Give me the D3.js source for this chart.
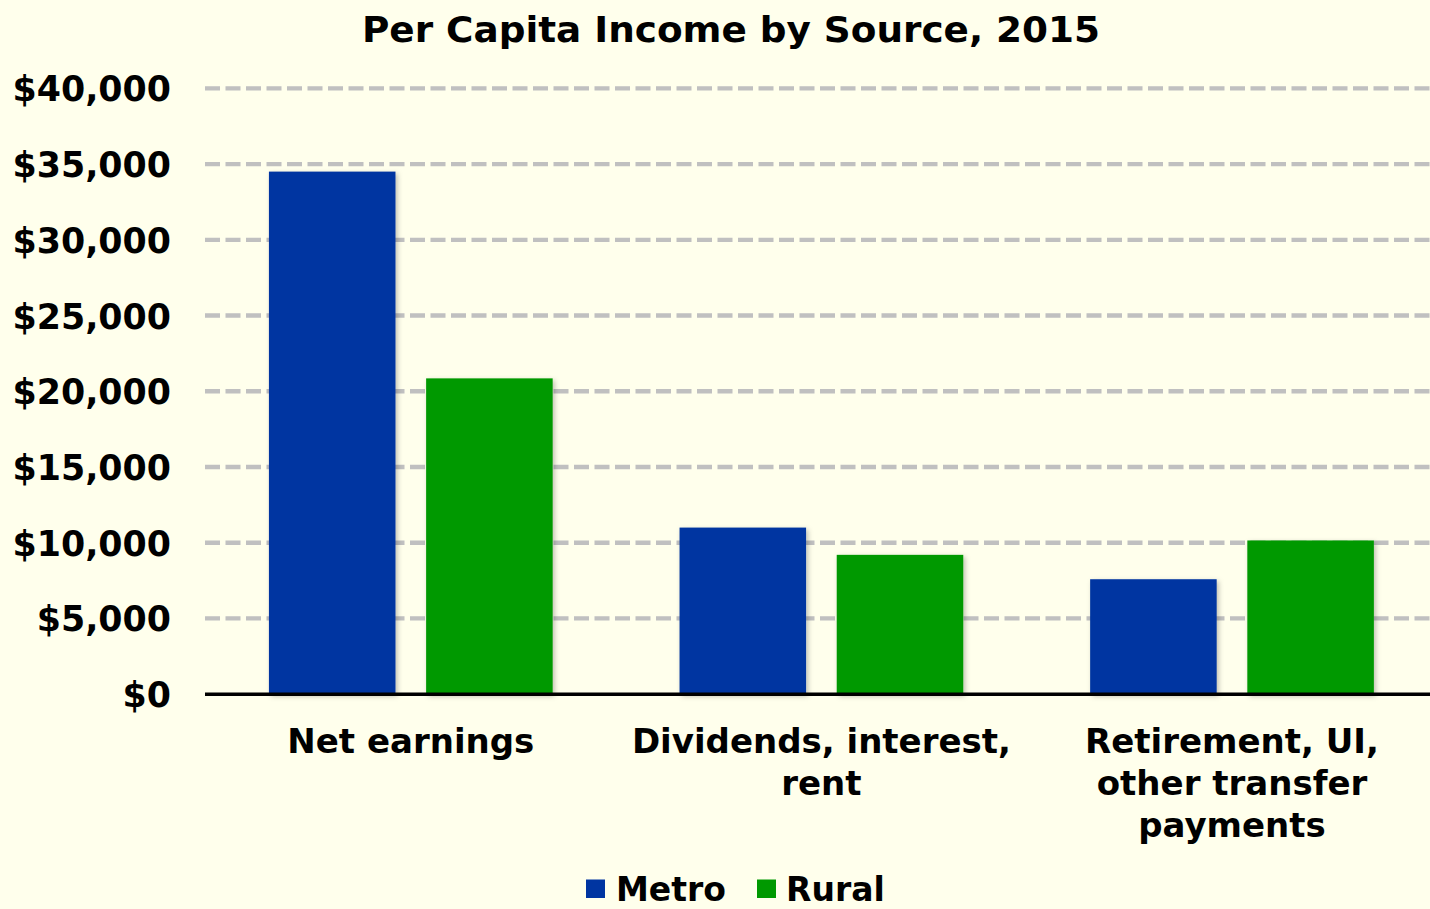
<!DOCTYPE html>
<html>
<head>
<meta charset="utf-8">
<script src="https://cdn.jsdelivr.net/npm/d3@7"></script>
<style>
  html, body { margin: 0; padding: 0; background: #FFFFEC; }
  svg { display: block; }
  text { font-family: "DejaVu Sans", Verdana, sans-serif; font-weight: bold; fill: #000; }
</style>
</head>
<body>
<svg id="chart" width="1430" height="909"></svg>
<script>
const title = "Per Capita Income by Source, 2015";
const categories = ["Net earnings", "Dividends, interest, rent", "Retirement, UI, other transfer payments"];
const seriesNames = ["Metro", "Rural"];
const metroValues = [34500, 11000, 7590];
const ruralValues = [20850, 9200, 10150];
const yTicks = [0, 5000, 10000, 15000, 20000, 25000, 30000, 35000, 40000];
const colors = {Metro: "#0035A1", Rural: "#009900"};

const svg = d3.select("#chart");
svg.append("rect").attr("width", 1430).attr("height", 909).attr("fill", "#FFFFEC");

const defs = svg.append("defs");
const f = defs.append("filter").attr("id", "shadow").attr("x", "-10%").attr("y", "-10%").attr("width", "130%").attr("height", "130%");
f.append("feDropShadow").attr("dx", 2).attr("dy", 2).attr("stdDeviation", 2.5)
  .attr("flood-color", "#000").attr("flood-opacity", 0.25);

const y = d3.scaleLinear().domain([0, 40000]).range([694.2, 88.3]);
const x0 = d3.scaleBand().domain(categories).range([205.5, 1437.3])
  .paddingInner(0.309).paddingOuter(0.1545);
const x1 = d3.scaleBand().domain(seriesNames).range([0, x0.bandwidth()])
  .paddingInner(0.195).paddingOuter(0);

// gridlines
svg.append("g").selectAll("line").data(yTicks.filter(d => d > 0)).join("line")
  .attr("x1", 205).attr("x2", 1430)
  .attr("y1", d => y(d)).attr("y2", d => y(d))
  .attr("stroke", "#C0C0C0").attr("stroke-width", 4.3)
  .attr("stroke-dasharray", "15,5.5");

// y axis labels
const fmt = d => "$" + d3.format(",")(d);
const yAxis = d3.axisLeft(y).tickValues(yTicks).tickFormat(fmt).tickSize(0).tickPadding(0);
const ya = svg.append("g").attr("transform", "translate(171,0)").call(yAxis);
ya.select(".domain").remove();
ya.selectAll("text").attr("font-size", 34.8).attr("font-family", "DejaVu Sans, sans-serif")
  .attr("font-weight", "bold").attr("fill", "#000").attr("dy", "0.36em");

// bars
const data = categories.map((c, i) => ({cat: c, vals: [
  {s: "Metro", v: metroValues[i]}, {s: "Rural", v: ruralValues[i]}]}));
const groups = svg.append("g").selectAll("g").data(data).join("g")
  .attr("transform", d => `translate(${x0(d.cat)},0)`);
groups.selectAll("rect").data(d => d.vals).join("rect")
  .attr("x", d => x1(d.s)).attr("width", x1.bandwidth())
  .attr("y", d => y(d.v)).attr("height", d => y(0) - y(d.v))
  .attr("fill", d => colors[d.s]).attr("filter", "url(#shadow)");

// baseline axis
svg.append("line").attr("x1", 205).attr("x2", 1430)
  .attr("y1", y(0)).attr("y2", y(0)).attr("stroke", "#000").attr("stroke-width", 3.5);

// category labels with wrapping
const xAxis = d3.axisBottom(x0).tickSize(0).tickPadding(0);
const xa = svg.append("g").attr("transform", "translate(0,0)").call(xAxis);
xa.select(".domain").remove();
xa.selectAll(".tick text").each(function(d) {
  const t = d3.select(this);
  t.text(null).attr("y", 0).attr("dy", null).attr("font-size", 34)
    .attr("font-family", "DejaVu Sans, sans-serif").attr("font-weight", "bold").attr("fill", "#000");
  const words = d.split(" ");
  let line = [], lineNo = 0;
  let tspan = t.append("tspan").attr("x", 0).attr("y", 752.5);
  for (const w of words) {
    line.push(w);
    tspan.text(line.join(" "));
    if (tspan.node().getComputedTextLength() > 400 && line.length > 1) {
      line.pop();
      tspan.text(line.join(" "));
      line = [w];
      lineNo++;
      tspan = t.append("tspan").attr("x", 0).attr("y", 752.5 + lineNo * 42).text(w);
    }
  }
});

// title
svg.append("text").attr("x", 731).attr("y", 42.3).attr("text-anchor", "middle")
  .attr("font-size", 35).attr("textLength", 738).attr("lengthAdjust", "spacingAndGlyphs")
  .text(title);

// legend
const legendPos = [{s: "Metro", sx: 586, tx: 616}, {s: "Rural", sx: 757, tx: 786}];
const lg = svg.append("g").selectAll("g").data(legendPos).join("g");
lg.append("rect").attr("x", d => d.sx).attr("y", 879.5).attr("width", 19).attr("height", 18.5)
  .attr("fill", d => colors[d.s]);
lg.append("text").attr("x", d => d.tx).attr("y", 901).attr("font-size", 33).text(d => d.s);
</script>
</body>
</html>
